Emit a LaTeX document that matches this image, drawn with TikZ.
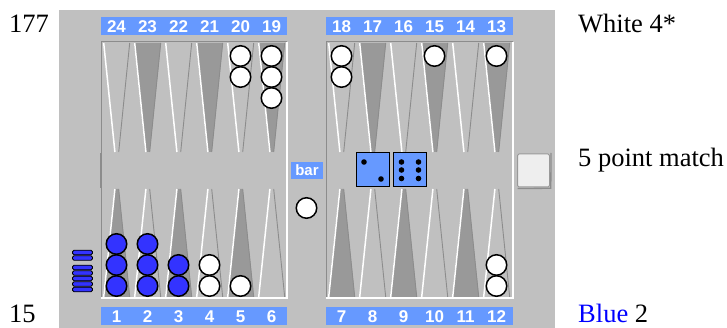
\documentclass[tikz,border=0pt]{standalone}
\usepackage{fontspec}
\setmainfont{Liberation Serif}
\setsansfont{Liberation Sans}
\definecolor{boardgray}{HTML}{C0C0C0}
\definecolor{darkpt}{HTML}{999999}
\definecolor{numblue}{HTML}{6699FF}
\definecolor{chkblue}{HTML}{3333FF}
\definecolor{edgegray}{HTML}{8C8C8C}
\definecolor{cubefill}{HTML}{EEEEEE}
\definecolor{txtblue}{HTML}{0000FF}
\newcommand{\bgtoppt}[2]{%
  \fill[#2] (#1-13.5,43) -- (#1+13.5,43) -- (#1+2.2,152) -- (#1-2.2,152) -- cycle;
  \draw[white,line width=1.5pt] (#1-12.8,43) -- (#1-1.6,152);
  \draw[edgegray,line width=0.9pt] (#1+13.2,43) -- (#1+2.2,152);
}
\newcommand{\bgbotpt}[2]{%
  \fill[#2] (#1-13.5,297) -- (#1+13.5,297) -- (#1+2.2,189) -- (#1-2.2,189) -- cycle;
  \draw[white,line width=1.5pt] (#1-12.8,297) -- (#1-1.6,189);
  \draw[edgegray,line width=0.9pt] (#1+13.2,297) -- (#1+2.2,189);
}
\begin{document}
\begin{tikzpicture}[x=1pt,y=-1pt,
  chkw/.style={circle,draw=black,line width=1.5pt,fill=white,minimum size=20.5pt,inner sep=0pt},
  chkb/.style={chkw,fill=chkblue},
  numbar/.style={fill=numblue,draw=none},
  numtxt/.style={font=\sffamily\bfseries\fontsize{17}{17}\selectfont,text=white,inner sep=0pt},
  diebox/.style={draw=black,line width=1pt,fill=numblue,minimum width=33pt,minimum height=34pt,inner sep=0pt},
  thinchk/.style={draw=black,line width=0.8pt,fill=chkblue,rounded corners=1.5pt,minimum width=20pt,minimum height=4.6pt,inner sep=0pt},
  serif/.style={font=\fontsize{26.5}{26.5}\selectfont,inner sep=0pt,anchor=base west}
]
\useasboundingbox (0,0) rectangle (727,328);
\fill[white] (0,0) rectangle (727,328);
% board
\fill[boardgray] (59,10) rectangle (555,328);
% number bars
\fill[numbar] (101,17) rectangle (287,35);
\fill[numbar] (326,17) rectangle (513,35);
\fill[numbar] (101,307) rectangle (287,325);
\fill[numbar] (326,307) rectangle (513,325);
% points
\foreach \i in {0,...,5}{
  \pgfmathsetmacro{\xl}{116.5+31*\i}
  \pgfmathsetmacro{\xr}{341.5+31*\i}
  \ifodd\i
    \bgtoppt{\xl}{darkpt}\bgtoppt{\xr}{darkpt}
    \bgbotpt{\xl}{boardgray}\bgbotpt{\xr}{boardgray}
  \else
    \bgtoppt{\xl}{boardgray}\bgtoppt{\xr}{boardgray}
    \bgbotpt{\xl}{darkpt}\bgbotpt{\xr}{darkpt}
  \fi
}
% field borders
\draw[edgegray,line width=1pt] (101,298) -- (101,42) -- (287,42);
\draw[white,line width=1.2pt] (287,42) -- (287,298) -- (101,298);
\draw[edgegray,line width=1pt] (326,298) -- (326,42) -- (513,42);
\draw[white,line width=1.2pt] (513,42) -- (513,298) -- (326,298);
\fill[edgegray] (99.5,153) rectangle (101.5,188);
% point numbers
\foreach \n [count=\k from 0] in {24,23,22,21,20,19}{
  \node[numtxt] (t\n) at (116.5+31*\k,26.5) {\n};}
\foreach \n [count=\k from 0] in {18,17,16,15,14,13}{
  \node[numtxt] (t\n) at (341.5+31*\k,26.5) {\n};}
\foreach \n [count=\k from 0] in {1,2,3,4,5,6}{
  \node[numtxt] (b\n) at (116.5+31*\k,316.5) {\n};}
\foreach \n [count=\k from 0] in {7,8,9,10,11,12}{
  \node[numtxt] (b\n) at (341.5+31*\k,316.5) {\n};}
% bar label
\node[fill=numblue,minimum width=32pt,minimum height=17pt,inner sep=0pt,
  font=\sffamily\bfseries\fontsize{15}{15}\selectfont,text=white] (barlbl) at (307,170.5) {bar};
% checkers top
\node[chkw] (w20a) at (240.5,56) {};
\node[chkw] (w20b) at (240.5,77) {};
\node[chkw] (w19a) at (271.5,56) {};
\node[chkw] (w19b) at (271.5,77) {};
\node[chkw] (w19c) at (271.5,98) {};
\node[chkw] (w18a) at (341.5,56) {};
\node[chkw] (w18b) at (341.5,77) {};
\node[chkw] (w15a) at (434.5,56) {};
\node[chkw] (w13a) at (496.5,56) {};
% checkers bottom
\node[chkb] (b1a) at (116.5,286) {};
\node[chkb] (b1b) at (116.5,265) {};
\node[chkb] (b1c) at (116.5,244) {};
\node[chkb] (b2a) at (147.5,286) {};
\node[chkb] (b2b) at (147.5,265) {};
\node[chkb] (b2c) at (147.5,244) {};
\node[chkb] (b3a) at (178.5,286) {};
\node[chkb] (b3b) at (178.5,265) {};
\node[chkw] (w4a) at (209.5,286) {};
\node[chkw] (w4b) at (209.5,265) {};
\node[chkw] (w5a) at (240.5,286) {};
\node[chkw] (w12a) at (496.5,286) {};
\node[chkw] (w12b) at (496.5,265) {};
% bar checker
\node[chkw] (wbar) at (306.5,208) {};
% borne off
\foreach \y [count=\k] in {252.5,258,267.5,273,278.5,284,289.5}{
  \node[thinchk] (off\k) at (82.5,\y) {};}
% dice
\node[diebox] (die1) at (372.5,170) {};
\node[diebox] (die2) at (410,170) {};
\fill ([shift={(-8.5,-8)}]die1.center) circle (2.8pt);
\fill ([shift={(8.5,9)}]die1.center) circle (2.8pt);
\foreach \dx in {-8.5,8.5}{
  \foreach \dy in {-8,0,8.5}{
    \fill ([shift={(\dx,\dy)}]die2.center) circle (2.8pt);}}
% cube
\node[draw=darkpt,line width=1pt,fill=cubefill,rounded corners=1.5pt,
  minimum width=32pt,minimum height=33pt,inner sep=0pt] (cube) at (533.5,170.5) {};
\draw[edgegray,line width=1.3pt] ([shift={(0.5,1)}]cube.south west) -- ([shift={(0.8,0.8)}]cube.south east) -- ([shift={(1,-0.5)}]cube.north east);
% texts
\node[serif] (movenum) at (9,33) {177};
\node[serif] (pips) at (9,322) {15};
\node[serif] (white) at (578,33) {White 4*};
\node[serif] (match) at (578,167) {5 point match};
\node[serif] (blue) at (578,322) {\textcolor{txtblue}{Blue} 2};
\end{tikzpicture}
\end{document}
